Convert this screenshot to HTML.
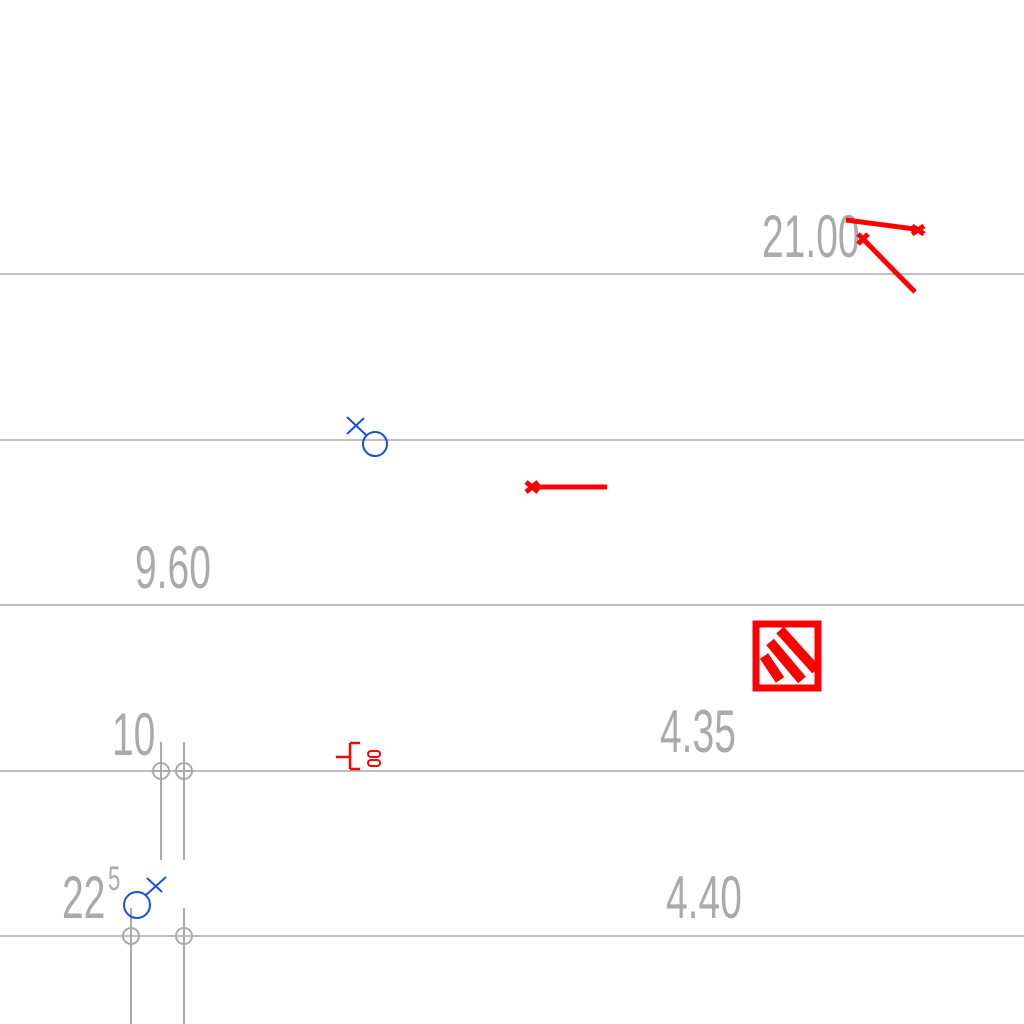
<!DOCTYPE html>
<html><head><meta charset="utf-8"><style>
html,body{margin:0;padding:0;background:#fff;width:1024px;height:1024px;overflow:hidden}
svg text{font-family:"Liberation Sans",sans-serif;fill:#aaaaaa}
</style></head><body>
<svg id="c" width="1024" height="1024" viewBox="0 0 1024 1024">
<g id="grid"></g>
<g id="labels"></g>
<g stroke="#aaa" stroke-width="2" fill="none">
<line x1="161" y1="742" x2="161" y2="860"/><line x1="184" y1="742" x2="184" y2="860"/>
<circle cx="161" cy="771" r="8"/><line x1="151" y1="771" x2="171" y2="771"/>
<circle cx="184" cy="771" r="8"/><line x1="174" y1="771" x2="194" y2="771"/>
<line x1="131" y1="908" x2="131" y2="1024"/><line x1="184" y1="908" x2="184" y2="1024"/>
<circle cx="131" cy="936" r="8"/><circle cx="184" cy="936" r="8"/>
</g>
<g stroke="#1a4fe0" stroke-width="2" fill="none">
<circle cx="375" cy="444" r="12"/><line x1="347" y1="417" x2="366" y2="435"/><line x1="347" y1="434" x2="364" y2="418"/>
</g>
<g stroke="#1a4fe0" stroke-width="2" fill="none">
<circle cx="137" cy="905" r="13"/><line x1="146" y1="895" x2="166" y2="877"/><line x1="147" y1="878" x2="162" y2="892"/>
</g>
<g stroke="#f00" stroke-width="5" fill="none">
<line x1="846" y1="220" x2="922" y2="230"/><path d="M912 226l12 8M912 234l12-8"/>
<line x1="862" y1="238" x2="915" y2="292"/><path d="M858 234l10 10M858 244l10-10"/>
<line x1="528" y1="487" x2="607" y2="487"/><path d="M526 482l12 10M526 492l12-10"/>
<rect x="756" y="624" width="62" height="64" stroke-width="7"/>
<path d="M780 630l36 40M770 642l32 38M764 656l16 24" stroke-width="10"/>
<path d="M336 757h14M350 743v26M350 743h10M350 769h10" stroke-width="2.5"/>
<rect x="368" y="751" width="12" height="6" rx="3" stroke-width="2"/><rect x="368" y="760" width="12" height="6" rx="3" stroke-width="2"/>
</g>
</svg>
<script>
const levelY=[274,440,605,771,936];
const labelText=["21.00","9.60","10","4.35","22","4.40"];
const labelX=[762,135,112,660,62,666];
const labelBaseY=[257,588,755,752,918,918];
const ns="http://www.w3.org/2000/svg";
const g=document.getElementById('grid');
levelY.forEach(y=>{const l=document.createElementNS(ns,'line');


l.setAttribute('x1',0);l.setAttribute('x2',1024);l.setAttribute('y1',y);l.setAttribute('y2',y);
l.setAttribute('stroke','#aaa');l.setAttribute('stroke-width','1.5');g.appendChild(l);});
const lg=document.getElementById('labels');
labelText.forEach((t,i)=>{const e=document.createElementNS(ns,'text');


e.setAttribute('transform',`translate(${labelX[i]},${labelBaseY[i]}) scale(0.65,1)`);
e.setAttribute('font-size','60');e.textContent=t;lg.appendChild(e);});
const s=document.createElementNS(ns,'text');


s.setAttribute('transform','translate(108,890) scale(0.65,1)');s.setAttribute('font-size','34');s.textContent='5';lg.appendChild(s);
</script>
</body></html>
